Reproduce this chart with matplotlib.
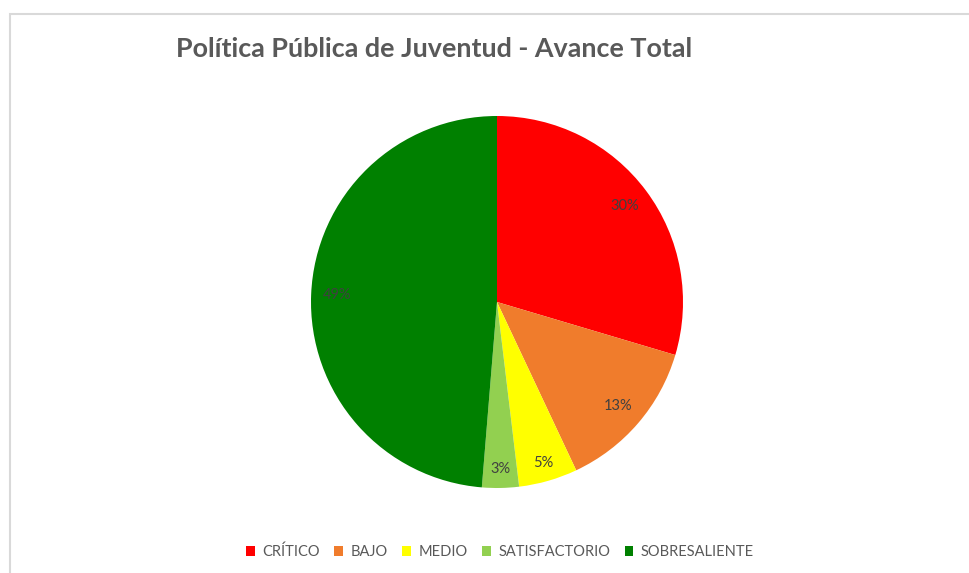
import numpy as np
import matplotlib.pyplot as plt
from matplotlib.patches import Rectangle

# Data
categories = ["CRÍTICO", "BAJO", "MEDIO", "SATISFACTORIO", "SOBRESALIENTE"]
values = [29.6, 13.4, 5.1, 3.2, 48.7]
colors = ["#FF0000", "#F07C2C", "#FFFF00", "#92D050", "#008000"]
title = "Política Pública de Juventud - Avance Total"

W, H = 970, 573
fig = plt.figure(figsize=(W/100, H/100), dpi=100)
plt.rcParams['font.family'] = ['Lato', 'DejaVu Sans']

# chart border (runs off the right/bottom edges)
fig.patches.append(Rectangle((10/W, -0.05), 1.2, 1 - 14/H + 0.05,
                             transform=fig.transFigure, fill=False,
                             edgecolor="#D9D9D9", linewidth=1.5))

cx, cy, r = 497, 302, 186
ax = fig.add_axes([(cx - r)/W, 1 - (cy + r)/H, 2*r/W, 2*r/H])

wedges, texts, autotexts = ax.pie(
    values, colors=colors, startangle=90, counterclock=False,
    autopct="%.0f%%", pctdistance=0.86,
    wedgeprops=dict(linewidth=0),
    textprops=dict(color="#404040", fontsize=10.5))

# nudge the small slices' labels outward a bit
for w, t, v in zip(wedges, autotexts, values):
    if v < 10:
        ang = np.deg2rad((w.theta1 + w.theta2) / 2)
        t.set_position((0.9*np.cos(ang), 0.9*np.sin(ang)))

ax.set_xlim(-1, 1)
ax.set_ylim(-1, 1)
ax.set_aspect("equal")

fig.text(176/W, 1 - 49/H, title, fontsize=19.4, fontweight="bold",
         color="#595959", ha="left", va="center")

fig.legend(wedges, categories, loc="center", bbox_to_anchor=(500/W, 1 - 552/H),
           ncol=5, frameon=False, fontsize=10.5, labelcolor="#595959",
           handlelength=0.6, handleheight=0.6, handletextpad=0.5,
           columnspacing=1.0)

fig.savefig("out.png", dpi=100)
